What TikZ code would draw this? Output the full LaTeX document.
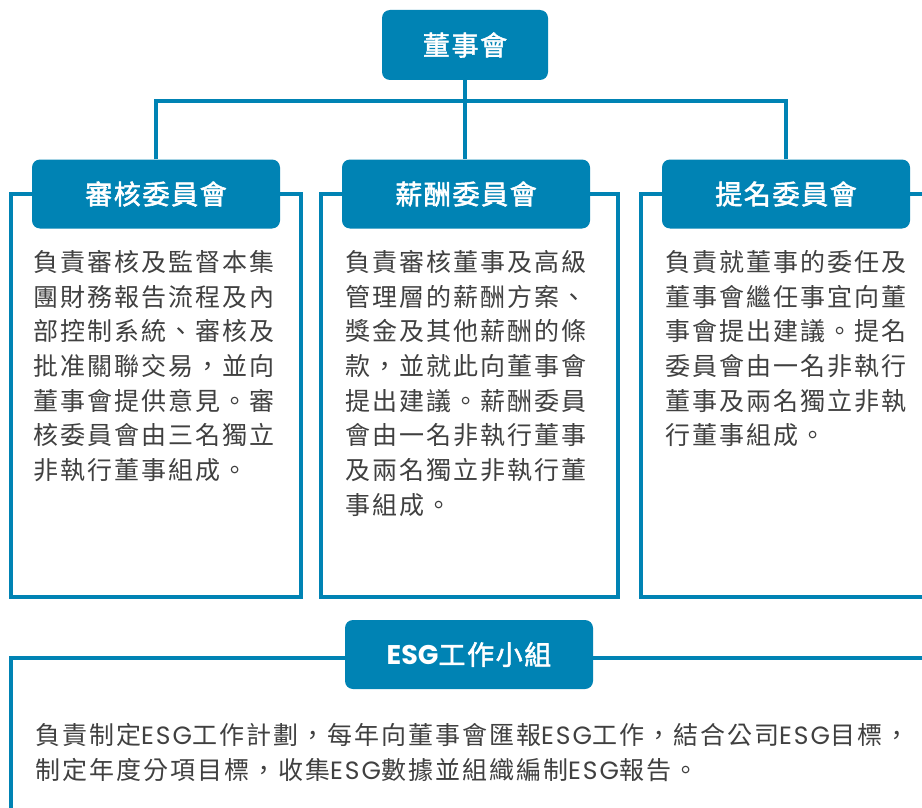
\documentclass[tikz,border=0pt]{standalone}
\usepackage{fontspec}
\newfontfamily\cjk[LetterSpace=8]{Noto Sans CJK TC}
\newfontfamily\lat[LetterSpace=8]{Poppins}
\newfontfamily\cjkh[LetterSpace=6,FakeBold=2]{Noto Sans CJK TC}
\newfontfamily\lath{Poppins}
\newcommand{\esgb}{{\lat ESG}}
\newcommand{\esgh}{{\lath\bfseries ESG}}
\definecolor{brand}{HTML}{0083B4}
\definecolor{bodytext}{HTML}{404040}
\begin{document}
\begin{tikzpicture}[x=1pt,y=-1pt,
  hdr/.style={fill=brand, rounded corners=8pt, minimum width=248pt, minimum height=69pt, inner sep=0pt, text=white, font=\cjkh\fontsize{27}{27}\selectfont},
  panel/.style={draw=brand, line width=3.6pt, inner sep=0pt},
  link/.style={draw=brand, line width=3.6pt},
  body/.style={anchor=north west, inner sep=0pt, align=left, text=bodytext, font=\cjk\fontsize{25}{34.7}\selectfont}]
\clip (0,0) rectangle (922,808);
\fill[white] (0,0) rectangle (922,808);
% panels
\node[panel, minimum width=290pt, minimum height=403pt] (p1) at (156,395.5) {};
\node[panel, minimum width=297pt, minimum height=403pt] (p2) at (469.5,395.5) {};
\node[panel, minimum width=290pt, minimum height=403pt] (p3) at (786,395.5) {};
\node[panel, minimum width=929pt, minimum height=182pt] (p4) at (475.5,749) {};
% headers
\node[hdr, minimum width=166pt, minimum height=70pt] (board) at (465,45) {董事會};
\node[hdr] (h1) at (156,194) {審核委員會};
\node[hdr] (h2) at (466,194) {薪酬委員會};
\node[hdr] (h3) at (786,194) {提名委員會};
\node[hdr] (h4) at (469,654.5) {\esgh 工作小組};
% connectors
\coordinate (bus) at (465,101);
\draw[link] (board.south) -- (bus);
\draw[link] (h1.north) |- (bus) -| (h3.north);
\draw[link] (bus) -- (bus |- h2.north);
% texts
\node[body] (t1) at (33,250) {負責審核及監督本集\\團財務報告流程及內\\部控制系統、審核及\\批准關聯交易，並向\\董事會提供意見。審\\核委員會由三名獨立\\非執行董事組成。};
\node[body] (t2) at (345,250) {負責審核董事及高級\\管理層的薪酬方案、\\獎金及其他薪酬的條\\款，並就此向董事會\\提出建議。薪酬委員\\會由一名非執行董事\\及兩名獨立非執行董\\事組成。};
\node[body] (t3) at (665,250) {負責就董事的委任及\\董事會繼任事宜向董\\事會提出建議。提名\\委員會由一名非執行\\董事及兩名獨立非執\\行董事組成。};
\node[body] (t4) at (35,723) {負責制定\esgb 工作計劃，每年向董事會匯報\esgb 工作，結合公司\esgb 目標，\\制定年度分項目標，收集\esgb 數據並組織編制\esgb 報告。};
\end{tikzpicture}
\end{document}
